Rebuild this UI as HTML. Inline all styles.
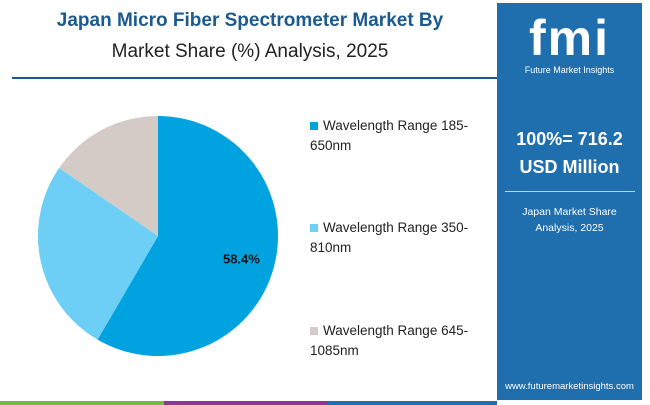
<!DOCTYPE html>
<html><head><meta charset="utf-8"><style>
body{margin:0;width:650px;height:405px;background:#fff;font-family:"Liberation Sans",sans-serif;overflow:hidden;position:relative}
.t{position:absolute;left:0;width:500px;text-align:center}
</style></head><body>
<div class="t" style="top:10px;font-size:19px;font-weight:bold;color:#1b5a8e">Japan Micro Fiber Spectrometer Market By</div>
<div class="t" style="top:41px;font-size:19px;color:#222">Market Share (%) Analysis, 2025</div>
<div style="position:absolute;left:12px;top:77px;width:486px;height:2px;background:#1b5a8e"></div>
<div style="position:absolute;left:497px;top:3px;width:145px;height:397px;background:#1f6eae;color:#fff;text-align:center">
  <div style="margin-top:8px;font-size:50px;font-weight:bold;letter-spacing:2px;line-height:54px">fmi</div>
  <div style="font-size:9px">Future Market Insights</div>
  <div style="margin-top:50px;font-size:18px;font-weight:bold;line-height:28px">100%= 716.2<br>USD Million</div>
  <div style="margin:10px auto 0;width:130px;height:1px;background:#b8d4ee"></div>
  <div style="margin-top:12px;font-size:10.5px;line-height:16px">Japan Market Share<br>Analysis, 2025</div>
  <div style="position:absolute;bottom:8px;width:100%;font-size:9.5px">www.futuremarketinsights.com</div>
</div>
<div style="position:absolute;left:0;top:401px;width:497px;height:4px;background:linear-gradient(90deg,#7ab648 0 33%,#8a3a8e 33% 66%,#1f6eae 66%)"></div>
<svg id="pie" width="650" height="405" style="position:absolute;left:0;top:0"></svg>
<script>
const labels=["Wavelength Range 185-650nm","Wavelength Range 350-810nm","Wavelength Range 645-1085nm"];
const values=[58.4,26.2,15.4];
const colors=["#00a3e0","#6dcff6","#d5cbc6"];
const cx=158,cy=236,r=120;
const svg=document.getElementById('pie');const ns="http://www.w3.org/2000/svg";
let total=values.reduce((a,b)=>a+b,0),a0=0;
values.forEach((v,i)=>{
  const a1=a0+v/total*2*Math.PI;
  const x0=cx+r*Math.sin(a0),y0=cy-r*Math.cos(a0),x1=cx+r*Math.sin(a1),y1=cy-r*Math.cos(a1);
  const p=document.createElementNS(ns,'path');
  p.setAttribute('d',`M${cx},${cy}L${x0},${y0}A${r},${r} 0 ${a1-a0>Math.PI?1:0} 1 ${x1},${y1}Z`);
  p.setAttribute('fill',colors[i]);
  
  
  svg.appendChild(p);
  if(i===0){
    const am=(a0+a1)/2,t=document.createElementNS(ns,'text');
    t.setAttribute('x',cx+r*0.72*Math.sin(am));t.setAttribute('y',cy-r*0.72*Math.cos(am)+5);
    t.setAttribute('text-anchor','middle');t.setAttribute('font-size','13');t.setAttribute('font-weight','bold');
    t.setAttribute('font-family','Liberation Sans');t.setAttribute('fill','#111');
    t.textContent=v.toFixed(1)+'%';
    
    
    svg.appendChild(t);
  }
  a0=a1;
});
const ly=[130,232,335];
labels.forEach((l,i)=>{
  const g=document.createElementNS(ns,'g');
  
  
  const rc=document.createElementNS(ns,'rect');
  rc.setAttribute('x',310);rc.setAttribute('y',ly[i]-8);rc.setAttribute('width',8);rc.setAttribute('height',8);rc.setAttribute('fill',colors[i]);
  g.appendChild(rc);
  const parts=l.split('-');
  [parts[0]+'-',parts[1]].forEach((s,k)=>{
    const t=document.createElementNS(ns,'text');
    t.setAttribute('x',k?310:323);t.setAttribute('y',ly[i]+k*20);
    t.setAttribute('font-size','13.5');t.setAttribute('font-family','Liberation Sans');t.setAttribute('fill','#222');
    t.textContent=s;g.appendChild(t);
  });
  svg.appendChild(g);
});
</script>
</body></html>
